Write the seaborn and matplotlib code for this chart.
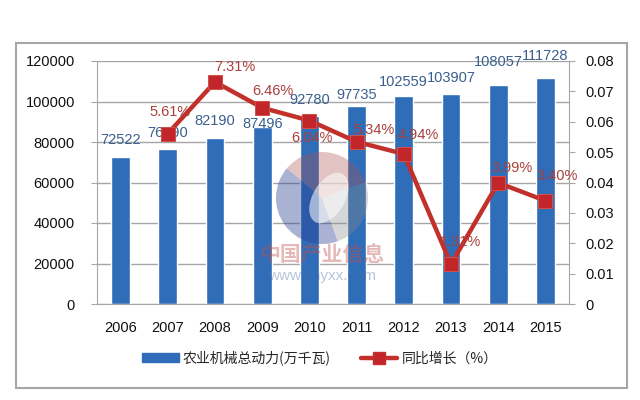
import seaborn as sns
import matplotlib.pyplot as plt
from matplotlib.patches import Rectangle, Patch, Wedge, Ellipse
from matplotlib.lines import Line2D
import numpy as np

# datos
anios = ['2006', '2007', '2008', '2009', '2010', '2011', '2012', '2013', '2014', '2015']
potencia = [72522, 76590, 82190, 87496, 92780, 97735, 102559, 103907, 108057, 111728]
anios_crec = ['2007', '2008', '2009', '2010', '2011', '2012', '2013', '2014', '2015']
crecimiento = [0.0561, 0.0731, 0.0646, 0.0604, 0.0534, 0.0494, 0.0131, 0.0399, 0.0340]
etiquetas_crec = ['5.61%', '7.31%', '6.46%', '6.04%', '5.34%', '4.94%', '1.31%', '3.99%', '3.40%']
nombre_barras = '农业机械总动力(万千瓦)'
nombre_linea = '同比增长（%）'

sns.set_style('white')
plt.rcParams['font.family'] = ['Liberation Sans', 'Noto Sans CJK SC', 'DejaVu Sans']

AZUL = '#2F6DB9'
ROJO = '#C1302B'
GRIS = '#A6A6A6'

fig = plt.figure(figsize=(6.4, 4), dpi=100)
ax = fig.add_axes([0.1516, 0.24, 0.889 - 0.1516, 0.8475 - 0.24])

sns.barplot(x=anios, y=potencia, ax=ax, color=AZUL, width=0.4, saturation=1)
ax.set_ylim(0, 120000)
ax.set_yticks(np.arange(0, 120001, 20000))
ax.set_xlim(-0.5, len(anios) - 0.5)
ax.set_xlabel('')
ax.set_ylabel('')
ax.yaxis.grid(True, color=GRIS, lw=1)
ax.set_axisbelow(True)
for s in ['top', 'right']:
    ax.spines[s].set_visible(False)
for s in ['left', 'bottom']:
    ax.spines[s].set_color(GRIS)
ax.tick_params(axis='y', length=4, color=GRIS, labelsize=10.5, labelcolor='#111111', pad=12)
ax.tick_params(axis='x', which='major', length=0, labelsize=10.5, labelcolor='#111111', pad=12)
ax.set_xticks(np.arange(-0.5, len(anios), 1), minor=True)
ax.tick_params(axis='x', which='minor', length=5, color=GRIS)

# etiquetas de barras
desp_barras = [17, 16, 17, 3, 16, 11, 14, 16, 23, 22]
for i, v in enumerate(potencia):
    ax.annotate(str(v), (i, v), xytext=(0, desp_barras[i]), textcoords='offset pixels',
                ha='center', va='center', fontsize=10.5, color='#3A5F8F')

ax2 = ax.twinx()
pos_crec = [anios.index(a) for a in anios_crec]
sns.lineplot(x=pos_crec, y=crecimiento, ax=ax2, color=ROJO, lw=3.2, marker='s',
             markersize=10, markerfacecolor='#C3262A', markeredgecolor='#D0504A')
ax2.set_ylim(0, 0.08)
ax2.set_yticks(np.arange(0, 0.081, 0.01))
ax2.set_yticklabels(['0'] + ['%.2f' % t for t in np.arange(0.01, 0.081, 0.01)])
ax2.set_xlim(-0.5, len(anios) - 0.5)
for s in ['top', 'left', 'bottom']:
    ax2.spines[s].set_visible(False)
ax2.spines['right'].set_color(GRIS)
ax2.tick_params(axis='y', length=4, color=GRIS, labelsize=10.5, labelcolor='#111111', pad=8)

desp_crec = [(2, 22), (20, 15), (11, 17), (3, -17), (17, 12), (14, 19), (10, 22), (14, 15), (12, 25)]
for p, v, t, d in zip(pos_crec, crecimiento, etiquetas_crec, desp_crec):
    ax2.annotate(t, (p, v), xytext=d, textcoords='offset pixels',
                 ha='center', va='center', fontsize=10.5, color='#A8403B')

# marca de agua (logo aproximado)
axm = fig.add_axes([(322 - 46) / 640, 1 - (198 + 46) / 400, 92 / 640, 92 / 400], zorder=5)
axm.set_xlim(-1, 1)
axm.set_ylim(-1, 1)
axm.axis('off')
axm.add_patch(Wedge((0, 0), 1, 20, 140, color='#B05050', alpha=0.35, lw=0))
axm.add_patch(Wedge((0, 0), 1, 140, 290, color='#2A3F90', alpha=0.4, lw=0))
axm.add_patch(Wedge((0, 0), 1, 290, 380, color='#8A8A8A', alpha=0.35, lw=0))
axm.add_patch(Ellipse((0.15, 0.0), 0.7, 1.2, angle=-30, color='white', alpha=0.55, lw=0))
fig.text(322 / 640, 1 - 255 / 400, '中国产业信息', fontsize=15, color='#C0504D', alpha=0.4,
         ha='center', va='center', family=['Noto Sans CJK SC'], weight='bold', zorder=6)
fig.text(322 / 640, 1 - 276 / 400, 'www.chyxx.com', fontsize=11, color='#4F6FA8', alpha=0.4,
         ha='center', va='center', zorder=6)

# leyenda
manejadores = [Patch(facecolor=AZUL, edgecolor=AZUL),
               Line2D([], [], color=ROJO, lw=3.2, marker='s', markersize=8, markerfacecolor='#C3262A')]
fig.legend(manejadores, [nombre_barras, nombre_linea], loc='center', bbox_to_anchor=(0.5, 0.105),
           ncol=2, frameon=False, handlelength=2.6, handleheight=0.7,
           columnspacing=2.2, handletextpad=0.3, prop={'family': ['Noto Sans CJK SC'], 'size': 10})

# marco exterior
fig.patches.append(Rectangle((16 / 640, 1 - 388 / 400), (627 - 16) / 640, (388 - 43) / 400,
                             transform=fig.transFigure, fill=False, edgecolor=GRIS, lw=1.5))

fig.savefig('out.png', dpi=100)
